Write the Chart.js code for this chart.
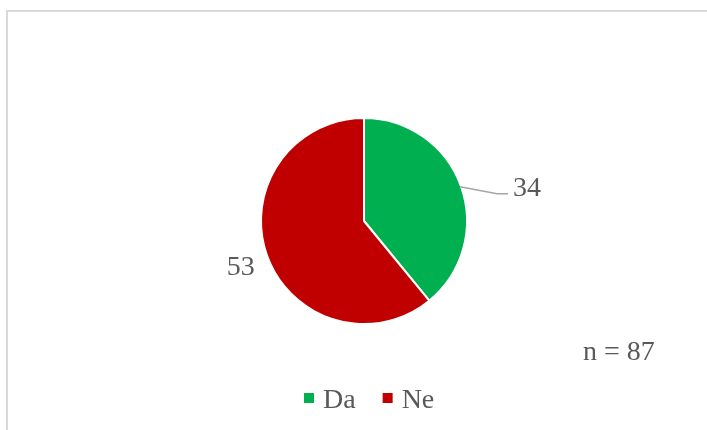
<!DOCTYPE html>
<html>
<head>
<meta charset="utf-8">
<script src="https://cdn.jsdelivr.net/npm/chart.js@4"></script>
<style>
    html, body { margin: 0; padding: 0; background: #fff; overflow: hidden; }
    #wrap { position: relative; width: 707px; height: 430px; overflow: hidden; }
    #lineTop { position: absolute; left: 6px; top: 10px; width: 701px; height: 2px; background: #d9d9d9; }
    #lineLeft { position: absolute; left: 6px; top: 10px; width: 2px; height: 420px; background: #d9d9d9; }
    #chart { position: absolute; left: 0; top: 0; }
</style>
</head>
<body>
<div id="wrap">
    <div id="lineTop"></div>
    <div id="lineLeft"></div>
    <canvas id="chart" width="707" height="430"></canvas>
</div>
<script>
// Chart data
const categories = ['Da', 'Ne'];
const answers = [34, 53];
const sliceColors = ['#00B050', '#C00000'];
const sampleLabel = 'n = ' + answers.reduce((a, b) => a + b, 0);

const FONT = '28px "Liberation Serif", "Times New Roman", serif';
const TEXT_COLOR = '#595959';

// Draws value labels, leader line, legend and the sample size note
const labelsPlugin = {
    id: 'pieLabels',
    afterDraw(chart) {
        const ctx = chart.ctx;
        const arcs = chart.getDatasetMeta(0).data;
        ctx.save();
        ctx.font = FONT;
        ctx.fillStyle = TEXT_COLOR;

        arcs.forEach((arc, i) => {
            const { x, y, startAngle, endAngle, outerRadius } = arc.getProps(['x', 'y', 'startAngle', 'endAngle', 'outerRadius'], true);
            const mid = (startAngle + endAngle) / 2;
            const value = String(answers[i]);
            if (i === 0) {
                // label outside with leader line
                const ex = x + Math.cos(mid) * (outerRadius - 1);
                const ey = y + Math.sin(mid) * (outerRadius - 1);
                ctx.strokeStyle = '#a6a6a6';
                ctx.lineWidth = 1.5;
                ctx.beginPath();
                ctx.moveTo(ex, ey);
                ctx.lineTo(ex + 37, ey + 7);
                ctx.lineTo(ex + 48, ey + 7);
                ctx.stroke();
                ctx.textAlign = 'left';
                ctx.textBaseline = 'alphabetic';
                ctx.fillText(value, ex + 53, ey + 9);
            } else {
                const lx = x + Math.cos(mid) * (outerRadius + 28);
                const ly = y + Math.sin(mid) * (outerRadius + 28) + 3;
                ctx.textAlign = 'center';
                ctx.textBaseline = 'middle';
                ctx.fillText(value, lx, ly);
            }
        });

        // legend
        ctx.textAlign = 'left';
        ctx.textBaseline = 'alphabetic';
        let lx = 304;
        const baseY = 408;
        categories.forEach((cat, i) => {
            ctx.fillStyle = sliceColors[i];
            ctx.fillRect(lx, 393, 10, 10);
            ctx.fillStyle = TEXT_COLOR;
            ctx.fillText(cat, lx + 19, baseY);
            lx += 19 + ctx.measureText(cat).width + 27;
        });

        // sample size note
        ctx.fillText(sampleLabel, 583, 360);
        ctx.restore();
    }
};

new Chart(document.getElementById('chart'), {
    type: 'pie',
    data: {
        labels: categories,
        datasets: [{
            data: answers,
            backgroundColor: sliceColors,
            borderColor: '#ffffff',
            borderWidth: 2,
            hoverOffset: 0
        }]
    },
    options: {
        responsive: false,
        animation: false,
        devicePixelRatio: 1,
        layout: {
            padding: { top: 117, bottom: 105, left: 100, right: 79 }
        },
        plugins: {
            legend: { display: false },
            tooltip: { enabled: false }
        }
    },
    plugins: [labelsPlugin]
});
</script>
</body>
</html>
